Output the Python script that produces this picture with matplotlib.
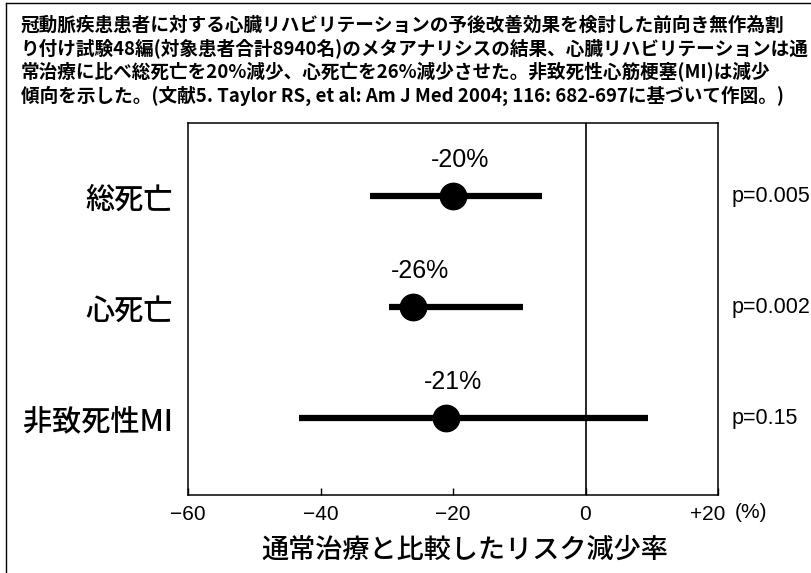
import matplotlib
matplotlib.use("Agg")
import matplotlib.pyplot as plt
import matplotlib.transforms as mtransforms
from matplotlib.lines import Line2D

plt.rcParams['font.family'] = ['Liberation Sans', 'Noto Sans CJK JP', 'DejaVu Sans']
JP = ['Noto Sans CJK JP', 'DejaVu Sans']

# ---- data -------------------------------------------------------------
outcomes = ["総死亡", "心死亡", "非致死性MI"]
risk_change = [-20, -26, -21]          # % change vs usual care
ci_low = [-32.5, -29.6, -43.3]
ci_high = [-6.5, -9.5, 9.5]
p_values = ["p=0.005", "p=0.002", "p=0.15"]
x_ticks = [-60, -40, -20, 0, 20]
x_tick_labels = ["\u221260", "\u221240", "\u221220", "0", "+20"]

caption_lines = [
    "冠動脈疾患患者に対する心臓リハビリテーションの予後改善効果を検討した前向き無作為割",
    "り付け試験48編(対象患者合計8940名)のメタアナリシスの結果、心臓リハビリテーションは通",
    "常治療に比べ総死亡を20%減少、心死亡を26%減少させた。非致死性心筋梗塞(MI)は減少",
    "傾向を示した。(文献5. Taylor RS, et al: Am J Med 2004; 116: 682-697に基づいて作図。)",
]
x_label = "通常治療と比較したリスク減少率"

# ---- figure -----------------------------------------------------------
W, H = 811, 573
fig = plt.figure(figsize=(W / 100, H / 100), dpi=100)


def fx(px):
    return px / W


def fy(py):
    return 1 - py / H


# outer frame (top and left edges)
fig.add_artist(Line2D([fx(6), 1.0], [fy(3), fy(3)], color='black', lw=1.0,
                      transform=fig.transFigure))
fig.add_artist(Line2D([fx(6), fx(6)], [fy(3), 0.0], color='black', lw=1.0,
                      transform=fig.transFigure))

# caption
for i, line in enumerate(caption_lines):
    fig.text(fx(21), fy(25 + 23.6 * i), line, family=JP, fontsize=13.4,
             fontweight='bold', ha='left', va='center')

ax = fig.add_axes([fx(188), fy(495), fx(718) - fx(188), fy(123) - fy(495)])

rows = list(range(len(outcomes)))
ax.hlines(rows, ci_low, ci_high, color='black', lw=4.5)
ax.plot(risk_change, rows, 'o', color='black', ms=19, zorder=3)
ax.axvline(0, color='black', lw=1.2)

for r, v in zip(rows, risk_change):
    ax.annotate(f"{v}%", (v, r), xytext=(5, 26), textcoords='offset points',
                ha='center', va='center', fontsize=18)

ax.set_xlim(-60, 20)
ax.set_ylim(2.69, -0.66)
ax.set_xticks(x_ticks)
ax.set_xticklabels(x_tick_labels, fontsize=15)
ax.tick_params(axis='x', direction='in', length=5, width=1, pad=7)
# the last label sits a little left so the unit fits beside it
last = ax.get_xticklabels()[-1]
last.set_transform(last.get_transform() +
                   mtransforms.ScaledTranslation(-10 / 100, 0, fig.dpi_scale_trans))
ax.set_yticks(rows)
ax.set_yticklabels(outcomes, family=JP, fontsize=21, fontweight='medium')
ax.tick_params(axis='y', length=0, pad=11)
for s in ax.spines.values():
    s.set_linewidth(1.1)

# p-values to the right of the panel
trans = mtransforms.blended_transform_factory(fig.transFigure, ax.transData)
for r, p in zip(rows, p_values):
    ax.text(fx(732), r, p, transform=trans, ha='left', va='center',
            fontsize=15.5, clip_on=False)

# unit label next to the last tick
fig.text(fx(735), fy(513), "(%)", ha='left', va='center', fontsize=15)

fig.text(fx(465), fy(550), x_label, family=JP, fontsize=19.5,
         fontweight='medium', ha='center', va='center')

fig.savefig("out.png", dpi=100)
